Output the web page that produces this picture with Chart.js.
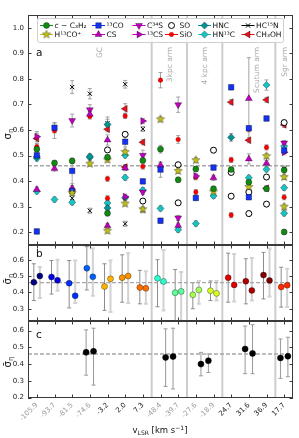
<!DOCTYPE html>
<html><head><meta charset="utf-8">
<script src="https://cdn.jsdelivr.net/npm/chart.js@4.4.0/dist/chart.umd.min.js"></script>
<style>
html,body{margin:0;padding:0;background:#fff;}
#wrap{position:relative;width:299px;height:438px;overflow:hidden;font-family:"DejaVu Sans",sans-serif;}
canvas{position:absolute;left:0;top:0;}
.rot{position:absolute;transform:translate(-50%,-50%) rotate(-90deg);font-size:10px;color:#111;white-space:nowrap;line-height:1;}
.rot sub{font-size:7px;vertical-align:-2px;}
#xt{position:absolute;left:160px;top:430px;transform:translate(-50%,-50%);font-size:8.5px;color:#111;white-space:nowrap;line-height:1;}
#xt sub{font-size:6px;vertical-align:-2px;}
#xt sup{font-size:6px;vertical-align:3px;}
</style></head><body>
<div id="wrap">
<canvas id="ca" width="299" height="438"></canvas>
<canvas id="cb" width="299" height="438"></canvas>
<canvas id="cc" width="299" height="438"></canvas>
<div class="rot" style="left:9px;top:134px;">σ<sub>η</sub></div>
<div class="rot" style="left:9px;top:279px;">σ̄<sub>η</sub></div>
<div class="rot" style="left:9px;top:362px;">σ̄<sub>η</sub></div>
<div id="xt">v<sub>LSR</sub> [km s<sup>−1</sup>]</div>
</div>
<script>
// ---------- data ----------
const velocities = ['-105.9','-93.7','-81.5','-74.6','-3.2','2.0','7.3','-48.4','-39.7','-27.6','-18.9','24.7','31.6','36.9','17.7'];
const tickColors = ['#9a9a9a','#9a9a9a','#9a9a9a','#9a9a9a','#222','#222','#222','#9a9a9a','#9a9a9a','#9a9a9a','#9a9a9a','#222','#222','#222','#222'];
const regionNames = ['GC','3kpc arm','4 kpc arm','Scutum arm','Sgr arm'];
const regionLabelX = [3.55,7.55,9.5,12.45,14.05];
const regionBounds = [6.5,8.5,10.5,13.5];
const refLevel = 0.46;
const yTicksA = [0.2,0.3,0.4,0.5,0.6,0.7,0.8,0.9,1.0];
const yTicksB = [0.3,0.4,0.5,0.6];
const yTicksC = [0.2,0.3,0.4,0.5,0.6];

// panel a: [velocity index, sigma, error]
const cC3H2 = [[0,.525,.01],[1,.471,.01],[2,.479,.01],[4,.493,.01],[4,.274,.01],[6,.481,.01],[7,.525,.015],[8,.405,.01],[9,.447,.01],[10,.37,.01],[11,.445,.01],[12,.396,.01],[13,.37,.01],[14,.443,.01],[14,.201,.01]];
const H13COp = [[2,.354,.01],[3,.468,.01],[4,.484,.01],[4,.206,.01],[5,.514,.01],[5,.312,.01],[6,.29,.01],[7,.642,.01],[8,.44,.01],[9,.482,.01],[10,.359,.01],[12,.377,.01],[13,.498,.01],[14,.416,.01],[14,.30,.01]];
const CO13 = [[0,.501,.01],[0,.203,.01],[1,.609,.02],[2,.44,.05],[2,.362,.01],[5,.554,.02],[6,.399,.01],[7,.445,.03],[7,.245,.01],[9,.334,.01],[10,.453,.01],[11,.767,.01],[12,.607,.01],[12,.337,.01],[13,.645,.01],[14,.52,.01]];
const CS = [[0,.367,.01],[1,.449,.01],[2,.372,.01],[3,.662,.01],[4,.561,.02],[4,.225,.01],[5,.451,.01],[7,.462,.01],[8,.226,.01],[10,.413,.01],[12,.723,.16],[12,.487,.02],[13,.47,.01]];
const C34S = [[2,.637,.025],[3,.679,.02],[6,.501,.02],[6,.357,.01],[8,.699,.03],[8,.256,.01],[14,.549,.01]];
const CS13 = [[0,.574,.02],[5,.339,.01],[6,.635,.01],[9,.42,.01],[14,.513,.01]];
const SO = [[4,.522,.01],[5,.583,.01],[6,.322,.01],[8,.464,.01],[8,.315,.01],[10,.521,.01],[11,.434,.01],[11,.341,.01],[12,.357,.01],[12,.273,.01],[13,.416,.01],[13,.31,.01],[14,.629,.01]];
const SiO = [[0,.534,.01],[1,.597,.03],[3,.653,.01],[4,.409,.01],[4,.333,.01],[5,.655,.01],[6,.457,.01],[7,.795,.03],[8,.563,.015],[9,.415,.01],[9,.357,.01],[11,.483,.01],[11,.267,.01],[12,.603,.01],[13,.532,.01],[14,.337,.01]];
const HNC = [[0,.495,.01],[3,.497,.01],[4,.622,.02],[4,.295,.01],[5,.335,.01],[11,.571,.015]];
const HN13C = [[0,.489,.01],[0,.36,.01],[1,.328,.01],[2,.317,.01],[3,.492,.01],[4,.314,.01],[5,.501,.01],[5,.414,.01],[6,.365,.01],[7,.293,.01],[8,.21,.01],[9,.234,.01],[10,.342,.01],[12,.413,.01],[13,.776,.02],[13,.446,.01],[14,.537,.01],[14,.374,.01],[14,.274,.01]];
const HC15N = [[2,.768,.025],[2,.333,.01],[3,.742,.02],[3,.284,.01],[4,.626,.025],[5,.779,.015],[5,.233,.01],[6,.604,.01],[6,.286,.01],[14,.449,.01]];
const CH3OH = [[0,.567,.02],[4,.603,.01],[5,.683,.02],[5,.455,.01],[6,.552,.01],[11,.709,.01],[12,.56,.01],[13,.718,.01],[13,.372,.01],[14,.62,.01]];

// panel b: two components per velocity
const bColors = ['#000080','#0000e3','#002fff','#0060ff','#ffb400','#ff9200','#ff6f00','#2bffcc','#5dff9a','#a3ff54','#d5ff22','#e30000','#aa0000','#800000','#ff2a00'];
const bVal1 = [0.462,0.494,0.456,0.548,0.436,0.49,0.43,0.486,0.398,0.385,0.41,0.49,0.468,0.506,0.433];
const bLo1  = [0.35,0.39,0.305,0.415,0.29,0.34,0.33,0.312,0.225,0.30,0.35,0.34,0.33,0.36,0.31];
const bHi1  = [0.575,0.595,0.595,0.68,0.575,0.63,0.535,0.60,0.54,0.46,0.47,0.64,0.606,0.645,0.554];
const bVal2 = [0.50,0.474,0.379,0.495,0.483,0.50,0.425,0.467,0.406,0.415,0.394,0.446,0.412,0.473,0.444];
const bLo2  = [0.365,0.41,0.335,0.38,0.28,0.335,0.33,0.29,0.22,0.33,0.35,0.345,0.35,0.375,0.31];
const bHi2  = [0.555,0.60,0.595,0.67,0.595,0.64,0.53,0.66,0.525,0.47,0.47,0.635,0.61,0.668,0.544];

// panel c: region averages
const cPos  = [3,7.5,9.5,12,14];
const cVal1 = [0.47,0.44,0.40,0.49,0.437];
const cLo1  = [0.334,0.267,0.33,0.343,0.315];
const cHi1  = [0.604,0.61,0.47,0.627,0.55];
const cVal2 = [0.476,0.445,0.42,0.464,0.447];
const cLo2  = [0.275,0.252,0.35,0.343,0.325];
const cHi2  = [0.614,0.614,0.46,0.635,0.56];

// ---------- styling ----------
const FONT = '"DejaVu Sans", sans-serif';
function starCanvas(color, size){
  const c = document.createElement('canvas'); c.width = c.height = size;
  const g = c.getContext('2d'); const cx = size/2, R = size/2-0.6, r = R*0.42;
  g.beginPath();
  for(let k=0;k<10;k++){const a=-Math.PI/2+k*Math.PI/5, rr=k%2?r:R; g.lineTo(cx+rr*Math.cos(a), cx+rr*Math.sin(a));}
  g.closePath(); g.fillStyle=color; g.fill(); g.strokeStyle='rgba(0,0,0,0.55)'; g.lineWidth=0.6; g.stroke();
  return c;
}
const STAR = starCanvas('#c2c214', 10);
const EDGE = 'rgba(0,0,0,0.55)';
const species = [
  {label:'c − C₃H₂', data:cC3H2, ps:'circle', rot:0, bg:'#138a13', bc:EDGE, r:3, bw:0.6},
  {label:'H¹³CO⁺', data:H13COp, ps:STAR, rot:0, bg:'#c2c214', bc:EDGE, r:5, bw:0.6},
  {label:'¹³CO', data:CO13, ps:'rect', rot:0, bg:'#1432f5', bc:EDGE, r:3.9, bw:0.6},
  {label:'CS', data:CS, ps:'triangle', rot:0, bg:'#c000c0', bc:EDGE, r:4, bw:0.6},
  {label:'C³⁴S', data:C34S, ps:'triangle', rot:180, bg:'#c000c0', bc:EDGE, r:4, bw:0.6},
  {label:'¹³CS', data:CS13, ps:'triangle', rot:90, bg:'#c000c0', bc:EDGE, r:4, bw:0.6},
  {label:'SO', data:SO, ps:'circle', rot:0, bg:'#ffffff', bc:'#000', r:3, bw:1, noLine:true},
  {label:'SiO', data:SiO, ps:'circle', rot:0, bg:'#ff0000', bc:'rgba(120,0,0,0.6)', r:2.3, bw:0.5},
  {label:'HNC', data:HNC, ps:'rectRot', rot:0, bg:'#009494', bc:EDGE, r:3.6, bw:0.6},
  {label:'HN¹³C', data:HN13C, ps:'rectRot', rot:0, bg:'#16c4c4', bc:EDGE, r:3.6, bw:0.6},
  {label:'HC¹⁵N', data:HC15N, ps:'crossRot', rot:0, bg:'#000', bc:'#000', r:3, bw:1},
  {label:'CH₃OH', data:CH3OH, ps:'triangle', rot:-90, bg:'#e8101a', bc:EDGE, r:4, bw:0.6},
];

function refDataset(){
  return {type:'line', data:[{x:-0.5,y:refLevel},{x:14.5,y:refLevel}], borderColor:'#a8a8a8', borderWidth:1.4, borderDash:[4,2], pointRadius:0, order:5, showLine:true};
}

const drawMarker = (ctx, sp, x, y) => {
  ctx.save();
  ctx.fillStyle = sp.bg; ctx.strokeStyle = sp.bc; ctx.lineWidth = sp.bw;
  if (Chart.helpers && Chart.helpers.drawPoint) {
    Chart.helpers.drawPoint(ctx, {pointStyle: sp.ps, rotation: sp.rot, radius: sp.r, borderWidth: sp.bw}, x, y);
  }
  ctx.restore();
};

function panelPlugin(opts){
  return {
    id:'panel',
    beforeDatasetsDraw(chart){
      const {ctx, chartArea:a, scales:{x,y}} = chart;
      ctx.save();
      ctx.beginPath(); ctx.rect(a.left, a.top, a.right-a.left, a.bottom-a.top); ctx.clip();
      ctx.strokeStyle = 'rgba(200,200,200,0.9)'; ctx.lineWidth = 2;
      regionBounds.forEach(v=>{const px=x.getPixelForValue(v); ctx.beginPath(); ctx.moveTo(px,a.top); ctx.lineTo(px,a.bottom); ctx.stroke();});
      chart.data.datasets.forEach(ds=>{
        if(!ds.err) return;
        const st = ds.err;
        ctx.strokeStyle = st.color; ctx.lineWidth = st.width;
        ds.data.forEach(p=>{
          const px=x.getPixelForValue(p.x), y1=y.getPixelForValue(p.lo), y2=y.getPixelForValue(p.hi);
          ctx.beginPath(); ctx.moveTo(px,y1); ctx.lineTo(px,y2);
          ctx.moveTo(px-st.cap,y1); ctx.lineTo(px+st.cap,y1);
          ctx.moveTo(px-st.cap,y2); ctx.lineTo(px+st.cap,y2);
          ctx.stroke();
        });
      });
      ctx.restore();
    },
    afterDraw(chart){
      const {ctx, chartArea:a, scales:{x,y}} = chart;
      ctx.save();
      ctx.strokeStyle = '#3a3a3a'; ctx.lineWidth = 1;
      ctx.strokeRect(Math.round(a.left)+0.5, Math.round(a.top)+0.5, Math.round(a.right-a.left)-1, Math.round(a.bottom-a.top)-1);
      ctx.beginPath();
      velocities.forEach((_,i)=>{const px=Math.round(x.getPixelForValue(i))+0.5; ctx.moveTo(px,a.top); ctx.lineTo(px,a.top+3.5); ctx.moveTo(px,a.bottom); ctx.lineTo(px,a.bottom-3.5);});
      opts.yTicks.forEach(v=>{const py=Math.round(y.getPixelForValue(v))+0.5; ctx.moveTo(a.left,py); ctx.lineTo(a.left+3.5,py); ctx.moveTo(a.right,py); ctx.lineTo(a.right-3.5,py);});
      ctx.stroke();
      ctx.fillStyle = '#111'; ctx.font = '10.5px '+FONT; ctx.textAlign='left'; ctx.textBaseline='alphabetic';
      ctx.fillText(opts.letter, a.left+8, opts.letterY);
      if(opts.main){
        ctx.fillStyle = '#a8a8a8'; ctx.font = '7.5px '+FONT;
        regionNames.forEach((n,i)=>{
          ctx.save(); ctx.translate(x.getPixelForValue(regionLabelX[i]), 47); ctx.rotate(-Math.PI/2);
          ctx.textAlign='right'; ctx.textBaseline='middle'; ctx.fillText(n,0,0); ctx.restore();
        });
        const lx=37.5, ly=18.5, lw=246, lh=24, rr=2;
        ctx.beginPath(); ctx.moveTo(lx+rr,ly); ctx.arcTo(lx+lw,ly,lx+lw,ly+lh,rr); ctx.arcTo(lx+lw,ly+lh,lx,ly+lh,rr); ctx.arcTo(lx,ly+lh,lx,ly,rr); ctx.arcTo(lx,ly,lx+lw,ly,rr); ctx.closePath();
        ctx.fillStyle='rgba(255,255,255,0.85)'; ctx.fill(); ctx.strokeStyle='#cfcfcf'; ctx.lineWidth=1; ctx.stroke();
        const colX=[40,92,132.5,165,198,241.5], rowY=[25.5,34.5], hl=13;
        ctx.font='7.5px '+FONT; ctx.textBaseline='middle'; ctx.textAlign='left';
        species.forEach((sp,k)=>{
          const cx=colX[Math.floor(k/2)], cy=rowY[k%2];
          if(!sp.noLine){ctx.strokeStyle = sp.ps==='crossRot'?'#000':sp.bg; ctx.lineWidth=1; ctx.beginPath(); ctx.moveTo(cx,cy); ctx.lineTo(cx+hl,cy); ctx.stroke();}
          drawMarker(ctx, sp, cx+hl/2, cy);
          ctx.fillStyle='#111'; ctx.fillText(sp.label, cx+hl+1.5, cy+0.5);
        });
      }
      ctx.restore();
    }
  };
}

function makeChart(id, datasets, yMin, yMax, yTicks, top, bottom, showX, letter, letterY, main){
  const xAxisH = 34;
  return new Chart(document.getElementById(id), {
    type:'scatter',
    data:{datasets},
    options:{
      responsive:false, animation:false, events:[],
      layout:{padding:{left:0, right:6, top:top, bottom:438-bottom-(showX?xAxisH:0)}},
      plugins:{legend:{display:false}, tooltip:{enabled:false}},
      scales:{
        x:{type:'linear', min:-0.5, max:14.5, display:showX,
           grid:{display:false, drawTicks:false}, border:{display:false},
           afterBuildTicks:s=>{s.ticks = velocities.map((_,i)=>({value:i}));},
           afterFit:s=>{ if(showX) s.height = xAxisH; },
           ticks:{autoSkip:false, maxRotation:45, minRotation:45, padding:3,
                  font:{family:FONT, size:7}, color:c=>tickColors[c.index],
                  callback:(v,i)=>velocities[i]}},
        y:{type:'linear', position:'left', min:yMin, max:yMax,
           grid:{display:false, drawTicks:false}, border:{display:false},
           afterBuildTicks:s=>{s.ticks = yTicks.map(v=>({value:v}));},
           afterFit:s=>{s.width = 28;},
           ticks:{padding:4, font:{family:FONT, size:7}, color:'#222', callback:v=>v.toFixed(1)}}
      }
    },
    plugins:[panelPlugin({yTicks, letter, letterY, main})]
  });
}

const dsA = [refDataset()];
species.forEach(sp=>{
  dsA.push({label:sp.label, data:sp.data.map(p=>({x:p[0], y:p[1], lo:p[1]-p[2], hi:p[1]+p[2]})),
    pointStyle:sp.ps, rotation:sp.rot, pointRadius:sp.r, backgroundColor:sp.bg, borderColor:sp.bc, borderWidth:sp.bw,
    err:{color:'#9a9a9a', width:0.9, cap:2}});
});
makeChart('ca', dsA, 0.15, 1.05, yTicksA, 15, 245, false, 'a', 56, true);

const off = 0.17;
const dsB = [refDataset(),
  {label:'b1', data:bVal1.map((v,i)=>({x:i-off, y:v, lo:bLo1[i], hi:bHi1[i]})), pointRadius:3, backgroundColor:bColors, borderColor:EDGE, borderWidth:0.6, err:{color:'#8c8c8c', width:1, cap:2}},
  {label:'b2', data:bVal2.map((v,i)=>({x:i+off, y:v, lo:bLo2[i], hi:bHi2[i]})), pointRadius:3, backgroundColor:bColors, borderColor:EDGE, borderWidth:0.6, err:{color:'#d2d2d2', width:2, cap:2}}
];
makeChart('cb', dsB, 0.225, 0.69, yTicksB, 245, 321, false, 'b', 257, false);

const offc = 0.21;
const dsC = [refDataset(),
  {label:'c1', data:cVal1.map((v,i)=>({x:cPos[i]-offc, y:v, lo:cLo1[i], hi:cHi1[i]})), pointRadius:3, backgroundColor:'#000', borderColor:'#000', borderWidth:0.5, err:{color:'#999', width:1, cap:2}},
  {label:'c2', data:cVal2.map((v,i)=>({x:cPos[i]+offc, y:v, lo:cLo2[i], hi:cHi2[i]})), pointRadius:3, backgroundColor:'#000', borderColor:'#000', borderWidth:0.5, err:{color:'#999', width:1, cap:2}}
];
makeChart('cc', dsC, 0.198, 0.657, yTicksC, 321, 398, true, 'c', 338, false);
</script>
</body></html>
